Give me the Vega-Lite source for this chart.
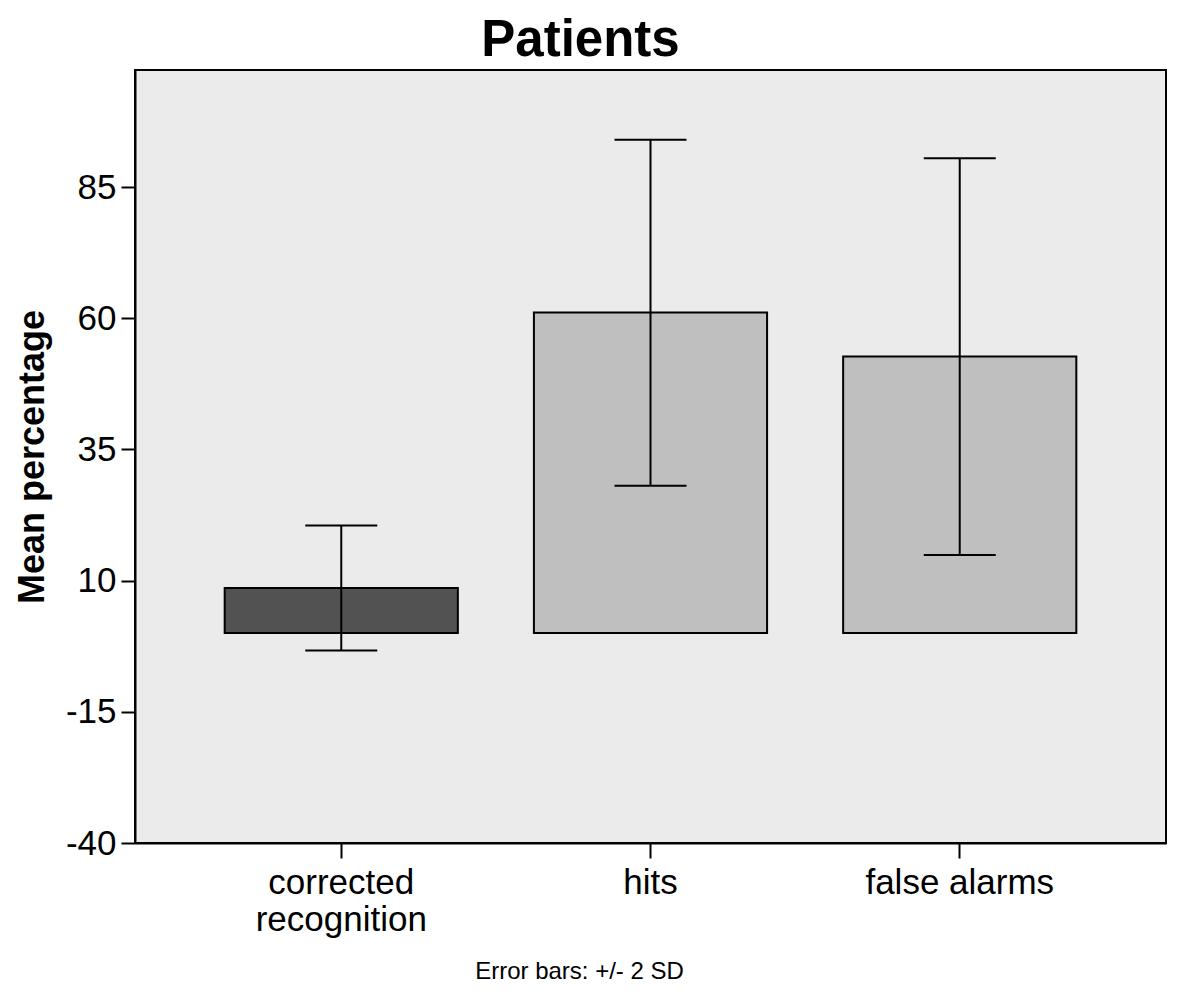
{
  "$schema": "https://vega.github.io/schema/vega-lite/v6.json",
  "autosize": {"type": "none"},
  "padding": {"left": 135, "top": 70, "right": 25, "bottom": 157},
  "width": 1031,
  "height": 773,
  "background": "white",
  "config": {
    "font": "Liberation Sans",
    "view": {"fill": "#ebebeb", "stroke": "black", "strokeWidth": 2}
  },
  "title": {
    "text": "Patients",
    "fontSize": 51,
    "fontWeight": "bold",
    "font": "Liberation Sans",
    "color": "black",
    "anchor": "middle",
    "dx": -70,
    "offset": 3
  },
  "data": {
    "values": [
      {"category": "corrected recognition", "mean": 8.6, "lower": -3.3, "upper": 20.5},
      {"category": "hits", "mean": 61.1, "lower": 28.1, "upper": 94.0},
      {"category": "false alarms", "mean": 52.7, "lower": 14.9, "upper": 90.5}
    ]
  },
  "encoding": {
    "x": {
      "field": "category",
      "type": "nominal",
      "sort": ["corrected recognition", "hits", "false alarms"],
      "scale": {"paddingInner": 0.246, "paddingOuter": 0.29},
      "axis": {
        "title": "Error bars: +/- 2 SD",
        "titleFontSize": 24,
        "titleFontWeight": "normal",
        "titleColor": "black",
        "titleX": 444,
        "titleY": 135,
        "titleBaseline": "alphabetic",
        "titleAlign": "center",
        "labelAngle": 0,
        "labelFontSize": 35,
        "labelColor": "black",
        "labelPadding": 7,
        "labelLineHeight": 37,
        "labelLimit": 500,
        "labelExpr": "datum.value == 'corrected recognition' ? ['corrected', 'recognition'] : datum.value",
        "tickSize": 15,
        "tickWidth": 2,
        "tickColor": "black",
        "domainColor": "black",
        "domainWidth": 2
      }
    }
  },
  "layer": [
    {
      "mark": {"type": "bar", "stroke": "black", "strokeWidth": 2},
      "encoding": {
        "y": {
          "field": "mean",
          "type": "quantitative",
          "scale": {"domain": [-40, 107.3], "nice": false, "zero": false},
          "axis": {
            "title": "Mean percentage",
            "titleFontSize": 36,
            "titleFontWeight": "bold",
            "titleColor": "black",
            "titleAngle": -90,
            "titleX": -92,
            "titleY": 386.5,
            "titleAlign": "center",
            "titleBaseline": "alphabetic",
            "values": [-40, -15, 10, 35, 60, 85],
            "labelExpr": "toString(datum.value)",
            "grid": false,
            "labelFontSize": 35,
            "labelColor": "black",
            "labelPadding": 5,
            "tickSize": 14,
            "tickWidth": 2,
            "tickColor": "black",
            "domainColor": "black",
            "domainWidth": 2
          }
        },
        "color": {
          "field": "category",
          "type": "nominal",
          "scale": {"domain": ["corrected recognition", "hits", "false alarms"], "range": ["#525252", "#bfbfbf", "#bfbfbf"]},
          "legend": null
        }
      }
    },
    {
      "mark": {"type": "rule", "color": "black", "strokeWidth": 2},
      "encoding": {
        "y": {"field": "lower", "type": "quantitative"},
        "y2": {"field": "upper"}
      }
    },
    {
      "mark": {"type": "tick", "color": "black", "thickness": 2, "size": 72, "opacity": 1},
      "encoding": {
        "y": {"field": "lower", "type": "quantitative"}
      }
    },
    {
      "mark": {"type": "tick", "color": "black", "thickness": 2, "size": 72, "opacity": 1},
      "encoding": {
        "y": {"field": "upper", "type": "quantitative"}
      }
    }
  ]
}
